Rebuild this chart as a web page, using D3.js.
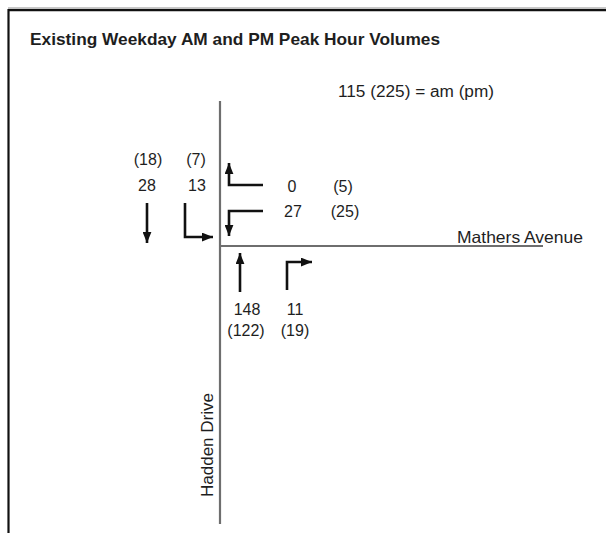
<!DOCTYPE html>
<html lang="en">
<head>
<meta charset="UTF-8">
<title>Existing Weekday AM and PM Peak Hour Volumes</title>
<script src="https://d3js.org/d3.v7.min.js"></script>
<style>
  body { margin: 0; background: #fff; }
  text { font-family: "Liberation Sans", Arial, sans-serif; fill: #1e1e1e; }
</style>
</head>
<body>
<div id="diagram"></div>
<script>

// movement volumes, am peak and (pm peak)
var movements = ["SB Through", "SB Left", "WB Right", "WB Left", "NB Through", "NB Right"];
var amVolumes = [28, 13, 0, 27, 148, 11];
var pmVolumes = [18, 7, 5, 25, 122, 19];

var streets = ["Mathers Avenue", "Hadden Drive"];
var title = "Existing Weekday AM and PM Peak Hour Volumes";
var legendText = "115 (225) = am (pm)";

var width = 606, height = 533;

var svg = d3.select("#diagram")
  .append("svg")
    .attr("width", width)
    .attr("height", height);

// intersection-relative coordinates (origin at the centre of the junction)
var x = d3.scaleLinear().domain([-220, 386]).range([0, width]);
var y = d3.scaleLinear().domain([-246, 287]).range([0, height]);

// frame
svg.append("line")
  .attr("x1", 8).attr("x2", width).attr("y1", 7.5).attr("y2", 7.5)
  .attr("stroke", "#c8c8c8").attr("stroke-width", 1);
svg.append("line")
  .attr("x1", 8).attr("x2", width).attr("y1", 10).attr("y2", 10)
  .attr("stroke", "#111").attr("stroke-width", 2.5);
svg.append("line")
  .attr("x1", 8.5).attr("x2", 8.5).attr("y1", 9).attr("y2", height)
  .attr("stroke", "#111").attr("stroke-width", 2.2);

// title + legend
svg.append("text")
  .attr("x", 30).attr("y", 45)
  .style("font-size", "16.5px").style("font-weight", "bold")
  .attr("textLength", 410).attr("lengthAdjust", "spacingAndGlyphs")
  .text(title);

svg.append("text")
  .attr("x", 338).attr("y", 97)
  .style("font-size", "16px")
  .attr("textLength", 156).attr("lengthAdjust", "spacingAndGlyphs")
  .text(legendText);

// roads
svg.append("line")
  .attr("x1", x(0)).attr("x2", x(0)).attr("y1", y(-145)).attr("y2", y(278))
  .attr("stroke", "#6e6e6e").attr("stroke-width", 2.2);
svg.append("line")
  .attr("x1", x(0)).attr("x2", x(323)).attr("y1", y(0)).attr("y2", y(0))
  .attr("stroke", "#6e6e6e").attr("stroke-width", 2.2);

svg.append("text")
  .attr("x", x(237)).attr("y", y(-3))
  .style("font-size", "16.5px")
  .attr("textLength", 126).attr("lengthAdjust", "spacingAndGlyphs")
  .text(streets[0]);

svg.append("text")
  .attr("transform", "translate(" + x(-7) + "," + y(251) + ") rotate(-90)")
  .style("font-size", "16px")
  .attr("textLength", 104).attr("lengthAdjust", "spacingAndGlyphs")
  .text(streets[1]);

// arrowhead
svg.append("defs").append("marker")
  .attr("id", "head")
  .attr("viewBox", "0 0 10 8")
  .attr("refX", 10).attr("refY", 4)
  .attr("markerWidth", 11).attr("markerHeight", 9)
  .attr("markerUnits", "userSpaceOnUse")
  .attr("orient", "auto")
  .append("path")
    .attr("d", "M0,0 L10,4 L0,8 Z")
    .attr("fill", "#111");

// shape of each movement arrow and where its two numbers sit
var shapes = {
  "SB Through": { pts: [[-73, -43], [-73, -3]], am: [-73, -55], pm: [-72, -81] },
  "SB Left":    { pts: [[-35, -43], [-35, -9], [-7, -9]], am: [-23, -55], pm: [-24, -81] },
  "WB Right":   { pts: [[43, -61], [9, -61], [9, -83]], am: [72, -54], pm: [123, -54] },
  "WB Left":    { pts: [[43, -35], [9, -35], [9, -10]], am: [73, -29], pm: [125, -29] },
  "NB Through": { pts: [[20, 46], [20, 7]], am: [27, 69], pm: [26, 90] },
  "NB Right":   { pts: [[67, 44], [67, 16], [92, 16]], am: [75, 69], pm: [75, 90] }
};

var line = d3.line()
  .x(function(d) { return x(d[0]); })
  .y(function(d) { return y(d[1]); });

var g = svg.selectAll(".movement")
  .data(movements)
  .enter()
  .append("g")
    .attr("class", "movement");

g.append("path")
  .attr("d", function(d) { return line(shapes[d].pts); })
  .attr("fill", "none")
  .attr("stroke", "#111")
  .attr("stroke-width", 2.6)
  .attr("marker-end", "url(#head)");

g.append("text")
  .attr("x", function(d) { return x(shapes[d].am[0]); })
  .attr("y", function(d) { return y(shapes[d].am[1]); })
  .attr("text-anchor", "middle")
  .style("font-size", "16px")
  .text(function(d, i) { return amVolumes[i]; });

g.append("text")
  .attr("x", function(d) { return x(shapes[d].pm[0]); })
  .attr("y", function(d) { return y(shapes[d].pm[1]); })
  .attr("text-anchor", "middle")
  .style("font-size", "16px")
  .text(function(d, i) { return "(" + pmVolumes[i] + ")"; });

</script>
</body>
</html>
